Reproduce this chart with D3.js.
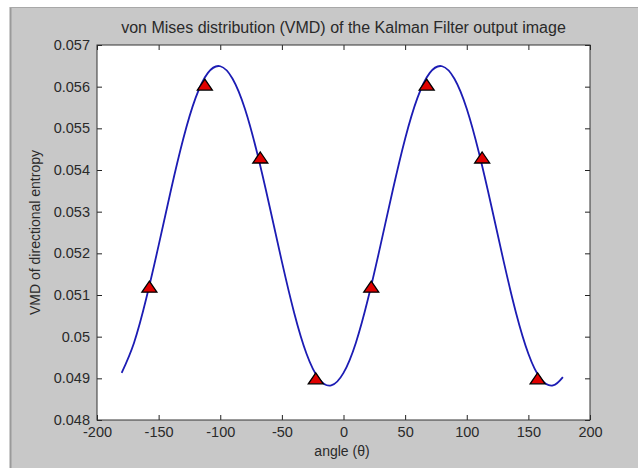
<!DOCTYPE html>
<html>
<head>
<meta charset="utf-8">
<script src="https://cdn.jsdelivr.net/npm/d3@7/dist/d3.min.js"></script>
<style>
  body { margin: 0; background: #fff; }
  svg { display: block; font-family: "Liberation Sans", Arial, sans-serif; }
</style>
</head>
<body>
<div id="chart"></div>
<script>
// curve
const angles = [-180, -170, -160, -150, -140, -130, -120, -110, -100, -90, -80, -70, -60, -50, -40, -30, -20, -10,
    0, 10, 20, 30, 40, 50, 60, 70, 80, 90, 100, 110, 120, 130, 140, 150, 160, 170, 178];
const vmd = [0.04913, 0.04985, 0.05092, 0.05219, 0.05352, 0.05475, 0.05573, 0.05633, 0.05649, 0.05619, 0.05547,
    0.05440, 0.05313, 0.05180, 0.05057, 0.04959, 0.04899, 0.04883,
    0.04913, 0.04985, 0.05092, 0.05219, 0.05352, 0.05475, 0.05573, 0.05633, 0.05649, 0.05619, 0.05547,
    0.05440, 0.05313, 0.05180, 0.05057, 0.04959, 0.04899, 0.04883, 0.04903];

// triangle markers
const markAngles = [-157.5, -112.5, -67.5, -22.5, 22.5, 67.5, 112.5, 157.5];
const markVmd = [0.0512, 0.05605, 0.0543, 0.0490, 0.0512, 0.05605, 0.0543, 0.0490];

const xTicks = [-200, -150, -100, -50, 0, 50, 100, 150, 200];
const yTicks = [0.048, 0.049, 0.05, 0.051, 0.052, 0.053, 0.054, 0.055, 0.056, 0.057];

const w = 638;
const h = 468;
const padL = 97, padR = 590, padT = 45, padB = 420;

const svg = d3.select("#chart")
    .append("svg")
    .attr("width", w)
    .attr("height", h);

// figure background
svg.append("rect").attr("x", 10).attr("y", 7).attr("width", w - 10).attr("height", h - 7).attr("fill", "#c8c8c8");
svg.append("line").attr("x1", 10.5).attr("x2", 10.5).attr("y1", 7).attr("y2", h).attr("stroke", "#9a9a9a").attr("stroke-width", 2);
svg.append("line").attr("x1", 10).attr("x2", w).attr("y1", 7.5).attr("y2", 7.5).attr("stroke", "#a8a8a8");

const x = d3.scaleLinear().domain([-200, 200]).range([padL, padR]);
const y = d3.scaleLinear().domain([0.048, 0.057]).range([padB, padT]);

svg.append("rect")
    .attr("x", padL).attr("y", padT)
    .attr("width", padR - padL).attr("height", padB - padT)
    .attr("fill", "#fff");

const fmtY = d => String(+d.toFixed(3));
const fmtX = d => String(d); // plain hyphen, like matlab

function styleAxis(g) {
    g.select(".domain").remove();
    g.selectAll(".tick line").attr("stroke", "#222");
    g.selectAll(".tick text").attr("fill", "#2a2a2a").attr("font-size", 14.5);
}

svg.append("g")
    .attr("transform", `translate(0,${padB})`)
    .call(d3.axisBottom(x).tickValues(xTicks).tickSize(-5).tickPadding(7).tickFormat(fmtX))
    .call(styleAxis);
svg.append("g")
    .attr("transform", `translate(0,${padT})`)
    .call(d3.axisTop(x).tickValues(xTicks).tickSize(-5).tickFormat(""))
    .call(styleAxis);
svg.append("g")
    .attr("transform", `translate(${padL},0)`)
    .call(d3.axisLeft(y).tickValues(yTicks).tickSize(-5).tickPadding(7).tickFormat(fmtY))
    .call(styleAxis);
svg.append("g")
    .attr("transform", `translate(${padR},0)`)
    .call(d3.axisRight(y).tickValues(yTicks).tickSize(-5).tickFormat(""))
    .call(styleAxis);

svg.append("rect")
    .attr("x", padL).attr("y", padT)
    .attr("width", padR - padL).attr("height", padB - padT)
    .attr("fill", "none")
    .attr("stroke", "#333");

const line = d3.line()
    .x((d, i) => x(angles[i]))
    .y(d => y(d))
    .curve(d3.curveNatural);

svg.append("path")
    .datum(vmd)
    .attr("d", line)
    .attr("fill", "none")
    .attr("stroke", "#1c1cb4")
    .attr("stroke-width", 1.8);

// flat-ish triangle marker, 15 wide and 11 tall
const triShape = {
    draw(ctx) {
        ctx.moveTo(0, -5.5);
        ctx.lineTo(7.5, 5.5);
        ctx.lineTo(-7.5, 5.5);
        ctx.closePath();
    }
};
const tri = d3.symbol().type(triShape);
svg.selectAll(".mark")
    .data(markVmd)
    .enter()
    .append("path")
    .attr("class", "mark")
    .attr("d", tri)
    .attr("transform", (d, i) => `translate(${x(markAngles[i])},${y(d)})`)
    .attr("fill", "#e00000")
    .attr("stroke", "#000")
    .attr("stroke-width", 1.3);

svg.append("text")
    .attr("x", (padL + padR) / 2)
    .attr("y", 33)
    .attr("text-anchor", "middle")
    .attr("font-size", 16)
    .attr("fill", "#2a2a2a")
    .text("von Mises distribution (VMD) of the Kalman Filter output image");

svg.append("text")
    .attr("x", 342)
    .attr("y", 456)
    .attr("text-anchor", "middle")
    .attr("font-size", 14)
    .attr("fill", "#2a2a2a")
    .text("angle (θ)");

svg.append("text")
    .attr("transform", `translate(40,${(padT + padB) / 2}) rotate(-90)`)
    .attr("text-anchor", "middle")
    .attr("font-size", 14)
    .attr("fill", "#2a2a2a")
    .text("VMD of directional entropy");
</script>
</body>
</html>
